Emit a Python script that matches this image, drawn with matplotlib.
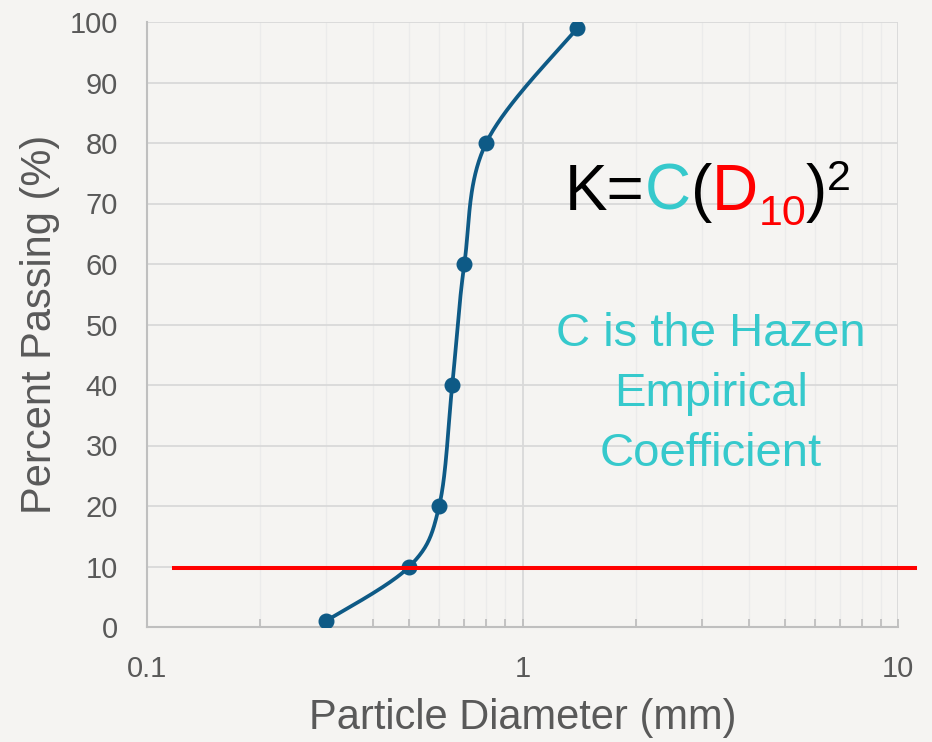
import numpy as np
import matplotlib
matplotlib.use("Agg")
import matplotlib.pyplot as plt
from matplotlib.transforms import IdentityTransform
from matplotlib.ticker import LogLocator, FixedLocator, NullFormatter

plt.rcParams['font.family'] = ['Liberation Sans', 'DejaVu Sans']

# sieve data
diameter = [0.3, 0.5, 0.6, 0.65, 0.7, 0.8, 1.4]
passing = [1, 10, 20, 40, 60, 80, 99]
d10_level = 9.77
d10_line_x = [0.118, 11.1]
y_ticks = [0, 10, 20, 30, 40, 50, 60, 70, 80, 90, 100]
x_ticks = [0.1, 1, 10]
x_tick_labels = ["0.1", "1", "10"]

bg = "#F5F4F2"
line_col = "#0E5A86"
cyan = "#36C9CC"
grey_txt = "#595959"

fig = plt.figure(figsize=(9.32, 7.42), dpi=100, facecolor=bg)
ax = fig.add_axes([147 / 932, 115 / 742, 751 / 932, 605 / 742])
ax.set_facecolor(bg)
ax.set_xscale("log")
ax.set_xlim(0.1, 10)
ax.set_ylim(0, 100)


# smoothed line like Excel (Catmull-Rom in screen-ish space)
def smooth(xs, ys, n=40):
    u = np.log10(xs) * 375.5
    v = np.asarray(ys, float) * 6.05
    P = np.column_stack([u, v])
    P = np.vstack([P[0], P, P[-1]])
    out = []
    for i in range(1, len(P) - 2):
        p0, p1, p2, p3 = P[i - 1], P[i], P[i + 1], P[i + 2]
        c1 = p1 + (p2 - p0) / 6
        c2 = p2 - (p3 - p1) / 6
        t = np.linspace(0, 1, n)[:, None]
        seg = (1 - t) ** 3 * p1 + 3 * (1 - t) ** 2 * t * c1 + 3 * (1 - t) * t ** 2 * c2 + t ** 3 * p2
        out.append(seg)
    out = np.vstack(out)
    return 10 ** (out[:, 0] / 375.5), out[:, 1] / 6.05


sx, sy = smooth(diameter, passing)
ax.plot(sx, sy, color=line_col, lw=2.7, zorder=3, solid_capstyle="round")
ax.plot(diameter, passing, "o", color=line_col, ms=10.5, zorder=4)

ax.plot(d10_line_x, [d10_level, d10_level], color="#FF0000", lw=2.9, clip_on=False, zorder=5)

# axes styling
ax.set_yticks(y_ticks)
ax.xaxis.set_major_locator(FixedLocator(x_ticks))
ax.set_xticklabels(x_tick_labels)
ax.xaxis.set_minor_locator(LogLocator(base=10, subs=np.arange(2, 10)))
ax.xaxis.set_minor_formatter(NullFormatter())
ax.grid(True, which="major", color="#D9D9D9", lw=1.3)
ax.grid(True, which="minor", axis="x", color="#EBEBEB", lw=1.0)
ax.set_axisbelow(True)
for s in ["top", "right"]:
    ax.spines[s].set_visible(False)
for s in ["left", "bottom"]:
    ax.spines[s].set_color("#BFBFBF")
    ax.spines[s].set_linewidth(1.5)
ax.tick_params(axis="y", length=0, pad=21, labelsize=21, labelcolor=grey_txt)
ax.tick_params(axis="x", which="both", direction="in", color="#BFBFBF", width=1.3,
               pad=20, labelsize=21, labelcolor=grey_txt)
ax.tick_params(axis="x", which="major", length=6)
ax.tick_params(axis="x", which="minor", length=6)

ax.set_xlabel("Particle Diameter (mm)", fontsize=30, color=grey_txt, labelpad=11)
ax.set_ylabel("Percent Passing (%)", fontsize=30, color=grey_txt, labelpad=7)

# formula K=C(D10)^2 built from pieces
renderer = fig.canvas.get_renderer()


def put(s, x, y, size, color):
    t = fig.text(x, y, s, fontsize=size, color=color, ha="left", va="baseline",
                 transform=IdentityTransform())
    return t.get_window_extent(renderer).x1


base = 742 - 210
x = 565
x = put("K=", x, base, 46, "black")
x = put("C", x, base, 46, cyan)
x = put("(", x, base, 46, "black")
x = put("D", x, base, 46, "#FF0000")
x = put("10", x, base - 15, 31, "#FF0000")
x = put(")", x, base, 46, "black")
put("2", x, base + 20, 31, "black")

fig.text(711 / 932, (742 - 394) / 742, "C is the Hazen\nEmpirical\nCoefficient",
         fontsize=34, color=cyan, ha="center", va="center", multialignment="center",
         linespacing=1.48)

fig.savefig("out.png", dpi=100, facecolor=bg)
